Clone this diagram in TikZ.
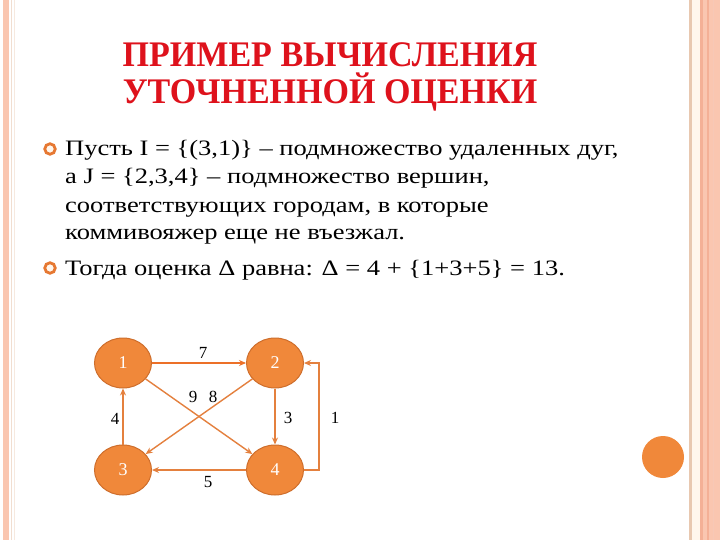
\documentclass[tikz,border=0pt]{standalone}
\usepackage{fontspec}
\setmainfont{Liberation Serif}
\newfontfamily\bodyfont[FakeStretch=1.205]{Liberation Serif}
\newfontfamily\titlefont[FakeStretch=0.945]{Liberation Serif}
\usetikzlibrary{arrows.meta,shapes.geometric}
\definecolor{peach}{RGB}{250,198,176}
\definecolor{peachdark}{RGB}{244,176,150}
\definecolor{tanline}{RGB}{232,200,176}
\definecolor{cream}{RGB}{255,246,236}
\definecolor{titlered}{RGB}{222,18,28}
\definecolor{nodefill}{RGB}{240,136,58}
\definecolor{nodeborder}{RGB}{206,110,44}
\definecolor{edgecol}{RGB}{228,128,62}
\definecolor{edgehot}{RGB}{236,112,40}
\definecolor{bulletcol}{RGB}{230,120,50}
\tikzset{
  titletext/.style={text=titlered,font=\titlefont\fontsize{36}{40}\selectfont\bfseries,anchor=base,inner sep=0},
  bodytext/.style={font=\bodyfont\fontsize{22}{28}\selectfont,anchor=base west,inner sep=0},
  city/.style={ellipse,fill=nodefill,draw=nodeborder,line width=1pt,minimum width=57pt,minimum height=50pt,inner sep=0,text=white,font=\fontsize{18}{20}\selectfont},
  edge/.style={draw=edgecol,line width=1.4pt,-{Stealth[length=7pt,width=6pt]}},
  weight/.style={font=\fontsize{17}{20}\selectfont,inner sep=0},
  bullet/.style={circle,draw=bulletcol,line width=2.8pt,fill=cream,minimum size=10.5pt,inner sep=0}
}
\begin{document}
\begin{tikzpicture}[x=1pt,y=-1pt]
\useasboundingbox (0,0) rectangle (720,540);
\fill[white] (0,0) rectangle (720,540);
% left border
\fill[peach] (3,0) rectangle (9,540);
\fill[tanline!60] (11,0) rectangle (12,540);
\fill[tanline!40] (14,0) rectangle (15,540);
% right border
\fill[tanline] (689,0) rectangle (692,540);
\fill[cream] (692,0) rectangle (700,540);
\fill[peachdark] (700,0) rectangle (703,540);
\fill[peach] (703,0) rectangle (720,540);
\fill[peachdark] (707,0) rectangle (709,540);
\fill[peachdark!70] (713,0) rectangle (714,540);
% decorative circle
\node[circle,fill=nodefill,minimum size=42pt,inner sep=0] (deco) at (663,457) {};
% title
\node[titletext] (t1) at (330,67) {ПРИМЕР ВЫЧИСЛЕНИЯ};
\node[titletext] (t2) at (330,104) {УТОЧНЕННОЙ ОЦЕНКИ};
% bullets
\node[bullet] (b1) at (50,149) {};
\node[bullet] (b2) at (50,268) {};
% body text
\node[bodytext] (l1) at (65,156) {Пусть I = \{(3,1)\} – подмножество удаленных дуг,};
\node[bodytext] (l2) at (65,184) {а J = \{2,3,4\} – подмножество вершин,};
\node[bodytext] (l3) at (65,212) {соответствующих городам, в которые};
\node[bodytext] (l4) at (65,240) {коммивояжер еще не въезжал.};
\node[bodytext] (l5) at (65,275) {Тогда оценка Δ равна: Δ = 4 + \{1+3+5\} = 13.};
% graph
\node[city] (n1) at (123,363) {1};
\node[city] (n2) at (275,363) {2};
\node[city] (n3) at (123,470) {3};
\node[city] (n4) at (275,470) {4};
\draw[edge,draw=edgehot] (n1) -- (n2);
\draw[edge] (n1) -- (n4);
\draw[edge] (n2) -- (n3);
\draw[edge] (n3) -- (n1);
\draw[edge] (n2) -- (n4);
\draw[edge] (n4) -- (n3);
\draw[edge] (n4.east) -- ++(15,0) |- (n2.east);
% weights
\node[weight] (w7) at (203,353) {7};
\node[weight] (w9) at (193,397) {9};
\node[weight] (w8) at (213,397) {8};
\node[weight] (w4) at (115,419) {4};
\node[weight] (w3) at (288,418) {3};
\node[weight] (w5) at (208,482) {5};
\node[weight] (w1) at (335,418) {1};
\end{tikzpicture}
\end{document}
